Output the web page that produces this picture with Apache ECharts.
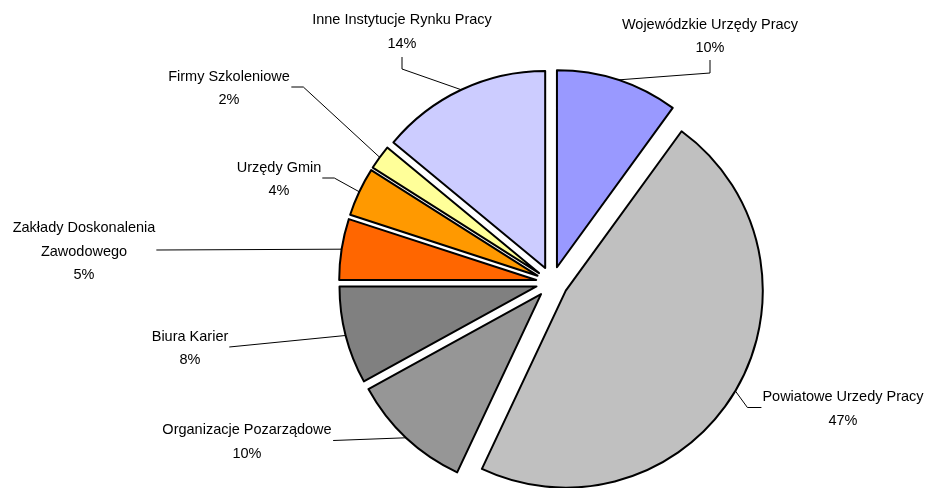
<!DOCTYPE html>
<html><head><meta charset="utf-8">
<script src="https://cdn.jsdelivr.net/npm/echarts@6/dist/echarts.min.js"></script>
<style>html,body{margin:0;padding:0;background:#fff}#c{width:930px;height:488px}</style>
</head><body><div id="c"></div>
<script>
// ---- data ----
const categories = ['Wojewódzkie Urzędy Pracy','Powiatowe Urzedy Pracy','Organizacje Pozarządowe','Biura Karier','Zakłady Doskonalenia\nZawodowego','Urzędy Gmin','Firmy Szkoleniowe','Inne Instytucje Rynku Pracy'];
const values = [10, 47, 10, 8, 5, 4, 2, 14];
const colors = ['#9999FF','#C0C0C0','#969696','#808080','#FF6600','#FF9900','#FFFF99','#CCCCFF'];

// ---- layout ----
const PIE = {cx: 552, cy: 282.5, r: 197, explode: 16};
const LABELS = [
  {x: 710, y: 36.5, side: 'bottom', gap: 0, stub: 13},
  {x: 843, y: 409, side: 'left', gap: 1, stub: 14},
  {x: 247, y: 442, side: 'right', gap: 1.5, stub: 0},
  {x: 190, y: 348.5, side: 'right', gap: 1, stub: 0},
  {x: 84, y: 251.5, side: 'right', gap: 1, stub: 0},
  {x: 279, y: 179.5, side: 'right', gap: 1, stub: 12},
  {x: 229, y: 88.5, side: 'right', gap: 1.5, stub: 12},
  {x: 402, y: 32, side: 'bottom', gap: 1.5, stub: 12}
];

const total = values.reduce((a, b) => a + b, 0);
const starts = [];
values.reduce((acc, v, i) => { starts[i] = acc; return acc + v; }, 0);

const geo = values.map((v, i) => {
  const mid = (starts[i] + v / 2) / total * Math.PI * 2;
  const sx = PIE.cx + PIE.explode * Math.sin(mid);
  const sy = PIE.cy - PIE.explode * Math.cos(mid);
  return {
    center: [sx, sy],
    startAngle: 90 - starts[i] / total * 360,
    arc: [sx + PIE.r * Math.sin(mid), sy - PIE.r * Math.cos(mid)]
  };
});

function layoutFn(params) {
  const i = params.seriesIndex;
  const L = LABELS[i];
  const w = params.labelRect.width, h = params.labelRect.height;
  let a, b;
  if (L.side === 'bottom') {
    a = [L.x, L.y + h / 2 + L.gap];
    b = [L.x, a[1] + L.stub];
  } else if (L.side === 'right') {
    a = [L.x + w / 2 + L.gap, L.y - 1.5];
    b = [a[0] + L.stub, a[1]];
  } else {
    a = [L.x - w / 2 - L.gap, L.y - 1.5];
    b = [a[0] - L.stub, a[1]];
  }
  const pts = L.stub > 0 ? [geo[i].arc, b, a] : [geo[i].arc, a];
  return {x: L.x, y: L.y, align: 'center', verticalAlign: 'middle', labelLinePoints: pts};
}

const series = values.map((v, i) => ({
  type: 'pie',
  center: geo[i].center,
  radius: PIE.r,
  startAngle: geo[i].startAngle,
  clockwise: true,
  silent: true,
  animation: false,
  avoidLabelOverlap: false,
  emphasis: {disabled: true},
  itemStyle: {borderColor: '#000', borderWidth: 2},
  label: {
    show: true,
    position: 'outside',
    formatter: p => p.name + '\n' + Math.round(p.value / total * 100) + '%',
    fontFamily: 'Liberation Sans, Arial, sans-serif',
    fontSize: 14.5,
    lineHeight: 23.5,
    color: '#000'
  },
  labelLine: {show: true, length: 10, length2: 10, lineStyle: {color: '#000', width: 1}},
  labelLayout: layoutFn,
  data: [
    {name: categories[i], value: v, itemStyle: {color: colors[i]}},
    {name: '', value: total - v,
     itemStyle: {color: 'rgba(0,0,0,0)', borderWidth: 0},
     label: {show: false}, labelLine: {show: false}}
  ]
}));

const chart = echarts.init(document.getElementById('c'), null, {renderer: 'canvas'});
chart.setOption({animation: false, backgroundColor: '#fff', series: series});
</script>
</body></html>
